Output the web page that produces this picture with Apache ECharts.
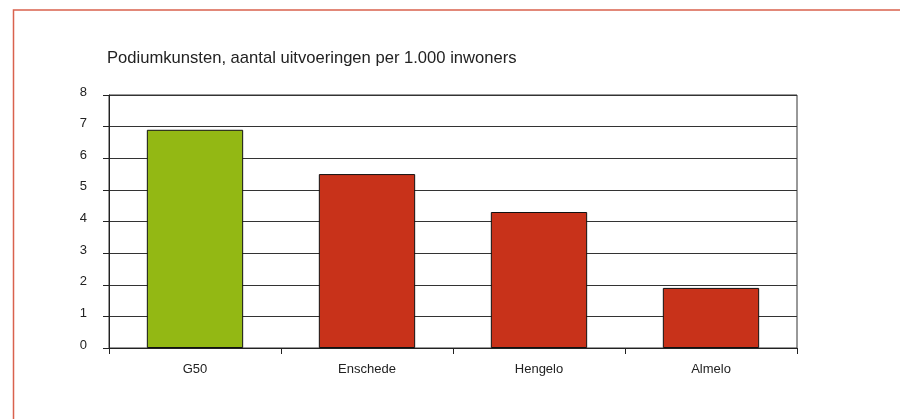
<!DOCTYPE html>
<html>
<head>
<meta charset="utf-8">
<script src="https://cdn.jsdelivr.net/npm/echarts@6/dist/echarts.min.js"></script>
<style>
html,body{margin:0;padding:0;background:#fff;}
#c{width:900px;height:419px;}
</style>
</head>
<body>
<div id="c"></div>
<script>
const categories = ['G50', 'Enschede', 'Hengelo', 'Almelo'];
const values = [6.9, 5.5, 4.3, 1.9];
const barColors = ['#93b814', '#c8321a', '#c8321a', '#c8321a'];
const titleText = 'Podiumkunsten, aantal uitvoeringen per 1.000 inwoners';

const chart = echarts.init(document.getElementById('c'), null, {renderer: 'canvas'});
chart.setOption({
  animation: false,
  backgroundColor: '#fff',
  title: {
    text: titleText,
    left: 107,
    top: 50,
    padding: 0,
    textStyle: {fontFamily: 'Liberation Sans, Arial, sans-serif', fontSize: 16.6, fontWeight: 'normal', color: '#222'}
  },
  graphic: [{
    type: 'rect',
    shape: {x: 13.5, y: 10, width: 900, height: 420},
    style: {fill: 'none', stroke: '#d9624e', lineWidth: 1.5},
    silent: true
  }],
  grid: {
    left: 109, right: 103, top: 95, bottom: 71,
    show: true, borderColor: '#333', borderWidth: 1, backgroundColor: 'transparent'
  },
  xAxis: {
    type: 'category',
    data: categories,
    axisLine: {lineStyle: {color: '#222', width: 1}},
    axisTick: {show: true, length: 6, alignWithLabel: false, lineStyle: {color: '#222'}},
    axisLabel: {margin: 15, fontFamily: 'Liberation Sans, Arial, sans-serif', fontSize: 13, color: '#222'}
  },
  yAxis: {
    type: 'value',
    min: 0, max: 8, interval: 1,
    axisLine: {show: true, lineStyle: {color: '#222', width: 1}},
    axisTick: {show: true, length: 6, lineStyle: {color: '#222'}},
    axisLabel: {
      margin: 22,
      formatter: v => '{a|' + v + '}',
      rich: {a: {fontFamily: 'Liberation Sans, Arial, sans-serif', fontSize: 13, color: '#222', padding: [0, 0, 6, 0]}}
    },
    splitLine: {show: true, lineStyle: {color: '#333', width: 1}}
  },
  series: [{
    type: 'bar',
    data: values.map((v, i) => ({value: v, itemStyle: {color: barColors[i]}})),
    barWidth: '56%',
    itemStyle: {borderColor: '#111', borderWidth: 1}
  }]
});
</script>
</body>
</html>
